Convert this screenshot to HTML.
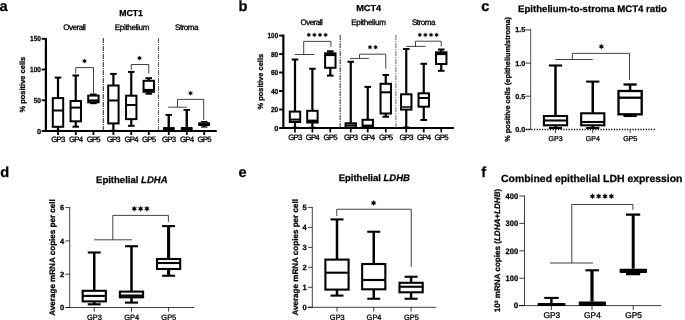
<!DOCTYPE html>
<html><head><meta charset="utf-8"><title>Figure</title>
<style>
html,body{margin:0;padding:0;background:#fff;}
body{width:685px;height:320px;overflow:hidden;font-family:"Liberation Sans",sans-serif;}
svg{display:block;will-change:transform;filter:grayscale(1);}
svg text{font-family:"Liberation Sans",sans-serif;text-rendering:geometricPrecision;stroke:#000;stroke-width:0.25px;}
svg text.r{stroke-width:0.3px;}
</style></head><body>
<svg width="685" height="320" viewBox="0 0 685 320">
<rect x="0" y="0" width="685" height="320" fill="#fff"/>
<text x="-0.5" y="11.1" font-size="14.6" font-weight="bold" text-anchor="start" fill="#000" >a</text>
<text x="131.1" y="16.3" font-size="8.7" font-weight="bold" text-anchor="middle" fill="#000" textLength="23.6" lengthAdjust="spacingAndGlyphs" >MCT1</text>
<text x="74.5" y="30.3" font-size="8.1" font-weight="normal" text-anchor="middle" fill="#000" textLength="22.6" lengthAdjust="spacing"  class="r">Overall</text>
<text x="132.1" y="30.3" font-size="8.1" font-weight="normal" text-anchor="middle" fill="#000" textLength="34.7" lengthAdjust="spacing"  class="r">Epithelium</text>
<text x="186.8" y="30.3" font-size="8.1" font-weight="normal" text-anchor="middle" fill="#000" textLength="23.6" lengthAdjust="spacing"  class="r">Stroma</text>
<text x="25.2" y="84.65" font-size="7.5" font-weight="bold" text-anchor="middle" fill="#000" transform="rotate(-90 25.2 84.65)" textLength="55.7" lengthAdjust="spacingAndGlyphs" >% positive cells</text>
<line x1="45.9" y1="37.9" x2="45.9" y2="132" stroke="#000" stroke-width="2.2" />
<line x1="45" y1="131" x2="216.75" y2="131" stroke="#000" stroke-width="2.0" />
<line x1="41.7" y1="38.8" x2="46" y2="38.8" stroke="#000" stroke-width="1.9" />
<text x="41" y="41.41" font-size="7.3" font-weight="bold" text-anchor="end" fill="#000" textLength="10.9" lengthAdjust="spacingAndGlyphs" >150</text>
<line x1="41.7" y1="69.5" x2="46" y2="69.5" stroke="#000" stroke-width="1.9" />
<text x="41" y="72.11" font-size="7.3" font-weight="bold" text-anchor="end" fill="#000" textLength="10.9" lengthAdjust="spacingAndGlyphs" >100</text>
<line x1="41.7" y1="100.3" x2="46" y2="100.3" stroke="#000" stroke-width="1.9" />
<text x="41" y="102.91" font-size="7.3" font-weight="bold" text-anchor="end" fill="#000" textLength="7.3" lengthAdjust="spacingAndGlyphs" >50</text>
<line x1="41.7" y1="131" x2="46" y2="131" stroke="#000" stroke-width="1.9" />
<text x="41" y="133.61" font-size="7.3" font-weight="bold" text-anchor="end" fill="#000" >0</text>
<line x1="58" y1="131" x2="58" y2="135" stroke="#000" stroke-width="1.8" />
<text x="58.3" y="142.4" font-size="7.8" font-weight="normal" text-anchor="middle" fill="#000" textLength="14" lengthAdjust="spacing"  class="r">GP3</text>
<line x1="75.75" y1="131" x2="75.75" y2="135" stroke="#000" stroke-width="1.8" />
<text x="76.05" y="142.4" font-size="7.8" font-weight="normal" text-anchor="middle" fill="#000" textLength="14" lengthAdjust="spacing"  class="r">GP4</text>
<line x1="93.4" y1="131" x2="93.4" y2="135" stroke="#000" stroke-width="1.8" />
<text x="93.7" y="142.4" font-size="7.8" font-weight="normal" text-anchor="middle" fill="#000" textLength="14" lengthAdjust="spacing"  class="r">GP5</text>
<line x1="113.4" y1="131" x2="113.4" y2="135" stroke="#000" stroke-width="1.8" />
<text x="113.7" y="142.4" font-size="7.8" font-weight="normal" text-anchor="middle" fill="#000" textLength="14" lengthAdjust="spacing"  class="r">GP3</text>
<line x1="131.25" y1="131" x2="131.25" y2="135" stroke="#000" stroke-width="1.8" />
<text x="131.55" y="142.4" font-size="7.8" font-weight="normal" text-anchor="middle" fill="#000" textLength="14" lengthAdjust="spacing"  class="r">GP4</text>
<line x1="148.75" y1="131" x2="148.75" y2="135" stroke="#000" stroke-width="1.8" />
<text x="149.05" y="142.4" font-size="7.8" font-weight="normal" text-anchor="middle" fill="#000" textLength="14" lengthAdjust="spacing"  class="r">GP5</text>
<line x1="168.75" y1="131" x2="168.75" y2="135" stroke="#000" stroke-width="1.8" />
<text x="169.05" y="142.4" font-size="7.8" font-weight="normal" text-anchor="middle" fill="#000" textLength="14" lengthAdjust="spacing"  class="r">GP3</text>
<line x1="186.75" y1="131" x2="186.75" y2="135" stroke="#000" stroke-width="1.8" />
<text x="187.05" y="142.4" font-size="7.8" font-weight="normal" text-anchor="middle" fill="#000" textLength="14" lengthAdjust="spacing"  class="r">GP4</text>
<line x1="204.25" y1="131" x2="204.25" y2="135" stroke="#000" stroke-width="1.8" />
<text x="204.55" y="142.4" font-size="7.8" font-weight="normal" text-anchor="middle" fill="#000" textLength="14" lengthAdjust="spacing"  class="r">GP5</text>
<line x1="103.3" y1="38" x2="103.3" y2="130" stroke="#333" stroke-width="1.1" stroke-dasharray="5 0.9 1.2 0.9"/>
<line x1="158.5" y1="38" x2="158.5" y2="130" stroke="#666" stroke-width="1.1" stroke-dasharray="5 0.9 1.2 0.9"/>
<line x1="58" y1="77.6" x2="58" y2="98.1" stroke="#000" stroke-width="2.2" />
<line x1="58" y1="126.8" x2="58" y2="130.8" stroke="#000" stroke-width="2.2" />
<line x1="54.7" y1="77.6" x2="61.3" y2="77.6" stroke="#000" stroke-width="2.0" />
<line x1="54.7" y1="130.8" x2="61.3" y2="130.8" stroke="#000" stroke-width="2.0" />
<rect x="52.8" y="98.1" width="10.4" height="28.700000000000003" fill="#fff" stroke="#000" stroke-width="2.0"/>
<line x1="52.8" y1="110.5" x2="63.2" y2="110.5" stroke="#000" stroke-width="2.0" />
<line x1="75.75" y1="75.5" x2="75.75" y2="101" stroke="#000" stroke-width="2.2" />
<line x1="75.75" y1="121.3" x2="75.75" y2="126.7" stroke="#000" stroke-width="2.2" />
<line x1="72.45" y1="75.5" x2="79.05" y2="75.5" stroke="#000" stroke-width="2.0" />
<line x1="72.45" y1="126.7" x2="79.05" y2="126.7" stroke="#000" stroke-width="2.0" />
<rect x="70.55" y="101" width="10.4" height="20.299999999999997" fill="#fff" stroke="#000" stroke-width="2.0"/>
<line x1="70.55" y1="107.6" x2="80.95" y2="107.6" stroke="#000" stroke-width="2.0" />
<line x1="93.4" y1="94.5" x2="93.4" y2="95.6" stroke="#000" stroke-width="2.2" />
<line x1="93.4" y1="102.3" x2="93.4" y2="103.2" stroke="#000" stroke-width="2.2" />
<line x1="90.10000000000001" y1="94.5" x2="96.7" y2="94.5" stroke="#000" stroke-width="2.0" />
<line x1="90.10000000000001" y1="103.2" x2="96.7" y2="103.2" stroke="#000" stroke-width="2.0" />
<rect x="88.2" y="95.6" width="10.4" height="6.700000000000003" fill="#fff" stroke="#000" stroke-width="2.0"/>
<line x1="88.2" y1="100.5" x2="98.60000000000001" y2="100.5" stroke="#000" stroke-width="2.2" />
<line x1="113.4" y1="73.9" x2="113.4" y2="85.5" stroke="#000" stroke-width="2.2" />
<line x1="113.4" y1="123.4" x2="113.4" y2="130.8" stroke="#000" stroke-width="2.2" />
<line x1="110.10000000000001" y1="73.9" x2="116.7" y2="73.9" stroke="#000" stroke-width="2.0" />
<line x1="110.10000000000001" y1="130.8" x2="116.7" y2="130.8" stroke="#000" stroke-width="2.0" />
<rect x="108.2" y="85.5" width="10.4" height="37.900000000000006" fill="#fff" stroke="#000" stroke-width="2.0"/>
<line x1="108.2" y1="100.5" x2="118.60000000000001" y2="100.5" stroke="#000" stroke-width="2.0" />
<line x1="131.25" y1="71.9" x2="131.25" y2="95.7" stroke="#000" stroke-width="2.2" />
<line x1="131.25" y1="119.1" x2="131.25" y2="125.8" stroke="#000" stroke-width="2.2" />
<line x1="127.95" y1="71.9" x2="134.55" y2="71.9" stroke="#000" stroke-width="2.0" />
<line x1="127.95" y1="125.8" x2="134.55" y2="125.8" stroke="#000" stroke-width="2.0" />
<rect x="126.05" y="95.7" width="10.4" height="23.39999999999999" fill="#fff" stroke="#000" stroke-width="2.0"/>
<line x1="126.05" y1="105" x2="136.45" y2="105" stroke="#000" stroke-width="2.0" />
<line x1="148.75" y1="78.2" x2="148.75" y2="80.8" stroke="#000" stroke-width="2.2" />
<line x1="148.75" y1="91.8" x2="148.75" y2="93.7" stroke="#000" stroke-width="2.2" />
<line x1="145.45" y1="78.2" x2="152.05" y2="78.2" stroke="#000" stroke-width="2.0" />
<line x1="145.45" y1="93.7" x2="152.05" y2="93.7" stroke="#000" stroke-width="2.0" />
<rect x="143.55" y="80.8" width="10.4" height="11.0" fill="#fff" stroke="#000" stroke-width="2.0"/>
<line x1="143.55" y1="90.0" x2="153.95" y2="90.0" stroke="#000" stroke-width="2.2" />
<rect x="163" y="127.1" width="11.800000000000011" height="4.700000000000017" fill="#000" rx="0.8"/>
<line x1="168.75" y1="114.9" x2="168.75" y2="127.1" stroke="#000" stroke-width="2.4" />
<line x1="165.5" y1="114.9" x2="172" y2="114.9" stroke="#000" stroke-width="1.8" />
<rect x="180.8" y="126.9" width="11.899999999999977" height="4.900000000000006" fill="#000" rx="0.8"/>
<line x1="186.75" y1="109.9" x2="186.75" y2="126.9" stroke="#000" stroke-width="2.4" />
<line x1="183.5" y1="109.9" x2="190" y2="109.9" stroke="#000" stroke-width="1.8" />
<rect x="198.1" y="122.2" width="12.0" height="3.8999999999999915" fill="#000" rx="0.8"/>
<line x1="204.25" y1="121.6" x2="204.25" y2="122.2" stroke="#000" stroke-width="2.4" />
<line x1="201" y1="121.6" x2="207.5" y2="121.6" stroke="#000" stroke-width="1.2" />
<line x1="204.25" y1="126.1" x2="204.25" y2="127" stroke="#000" stroke-width="2.4" />
<line x1="201" y1="127" x2="207.5" y2="127" stroke="#000" stroke-width="1.2" />
<polyline points="75.75,73.5 75.75,67.6 93.5,67.6 93.5,93" fill="none" stroke="#222" stroke-width="0.85"/>
<polygon points="84.50,58.80 85.08,60.10 86.49,59.95 85.65,61.10 86.49,62.25 85.08,62.10 84.50,63.40 83.92,62.10 82.51,62.25 83.35,61.10 82.51,59.95 83.92,60.10" fill="#000" stroke="#000" stroke-width="0.3" stroke-linejoin="round"/>
<polyline points="131.25,69.8 131.25,64.5 148.75,64.5 148.75,73.5" fill="none" stroke="#222" stroke-width="0.85"/>
<polygon points="139.50,55.80 140.07,57.10 141.49,56.95 140.65,58.10 141.49,59.25 140.07,59.10 139.50,60.40 138.93,59.10 137.51,59.25 138.35,58.10 137.51,56.95 138.93,57.10" fill="#000" stroke="#000" stroke-width="0.3" stroke-linejoin="round"/>
<line x1="168.25" y1="107.2" x2="186.75" y2="107.2" stroke="#222" stroke-width="0.85" />
<polyline points="177.5,107.2 177.5,99.4 203.7,99.4 203.7,120" fill="none" stroke="#222" stroke-width="0.85"/>
<polygon points="190.60,90.90 191.17,92.20 192.59,92.05 191.75,93.20 192.59,94.35 191.17,94.20 190.60,95.50 190.03,94.20 188.61,94.35 189.45,93.20 188.61,92.05 190.03,92.20" fill="#000" stroke="#000" stroke-width="0.3" stroke-linejoin="round"/>
<text x="238.6" y="11.3" font-size="14.6" font-weight="bold" text-anchor="start" fill="#000" >b</text>
<text x="368.7" y="11.3" font-size="8.7" font-weight="bold" text-anchor="middle" fill="#000" textLength="25" lengthAdjust="spacingAndGlyphs" >MCT4</text>
<text x="311.6" y="25.1" font-size="8.1" font-weight="normal" text-anchor="middle" fill="#000" textLength="22.2" lengthAdjust="spacing"  class="r">Overall</text>
<text x="368.55" y="25.1" font-size="8.1" font-weight="normal" text-anchor="middle" fill="#000" textLength="34.7" lengthAdjust="spacing"  class="r">Epithelium</text>
<text x="423.7" y="25.1" font-size="8.1" font-weight="normal" text-anchor="middle" fill="#000" textLength="23.6" lengthAdjust="spacing"  class="r">Stroma</text>
<text x="263" y="81.7" font-size="7.5" font-weight="bold" text-anchor="middle" fill="#000" transform="rotate(-90 263 81.7)" textLength="55.7" lengthAdjust="spacingAndGlyphs" >% positive cells</text>
<line x1="283.35" y1="34.6" x2="283.35" y2="129" stroke="#000" stroke-width="2.2" />
<line x1="282.3" y1="128" x2="454" y2="128" stroke="#000" stroke-width="2.0" />
<line x1="279.1" y1="35.6" x2="283.5" y2="35.6" stroke="#000" stroke-width="1.9" />
<text x="278.2" y="38.21" font-size="7.3" font-weight="bold" text-anchor="end" fill="#000" textLength="10.6" lengthAdjust="spacingAndGlyphs" >100</text>
<line x1="279.1" y1="54.1" x2="283.5" y2="54.1" stroke="#000" stroke-width="1.9" />
<text x="278.2" y="56.71" font-size="7.3" font-weight="bold" text-anchor="end" fill="#000" textLength="7.3" lengthAdjust="spacingAndGlyphs" >80</text>
<line x1="279.1" y1="72.5" x2="283.5" y2="72.5" stroke="#000" stroke-width="1.9" />
<text x="278.2" y="75.11" font-size="7.3" font-weight="bold" text-anchor="end" fill="#000" textLength="7.3" lengthAdjust="spacingAndGlyphs" >60</text>
<line x1="279.1" y1="91" x2="283.5" y2="91" stroke="#000" stroke-width="1.9" />
<text x="278.2" y="93.61" font-size="7.3" font-weight="bold" text-anchor="end" fill="#000" textLength="7.3" lengthAdjust="spacingAndGlyphs" >40</text>
<line x1="279.1" y1="109.5" x2="283.5" y2="109.5" stroke="#000" stroke-width="1.9" />
<text x="278.2" y="112.11" font-size="7.3" font-weight="bold" text-anchor="end" fill="#000" textLength="7.3" lengthAdjust="spacingAndGlyphs" >20</text>
<line x1="279.1" y1="128" x2="283.5" y2="128" stroke="#000" stroke-width="1.9" />
<text x="278.2" y="130.61" font-size="7.3" font-weight="bold" text-anchor="end" fill="#000" >0</text>
<line x1="295" y1="128" x2="295" y2="132.4" stroke="#000" stroke-width="1.7" />
<text x="295.3" y="139.8" font-size="7.8" font-weight="normal" text-anchor="middle" fill="#000" textLength="14" lengthAdjust="spacing"  class="r">GP3</text>
<line x1="312.4" y1="128" x2="312.4" y2="132.4" stroke="#000" stroke-width="1.7" />
<text x="312.7" y="139.8" font-size="7.8" font-weight="normal" text-anchor="middle" fill="#000" textLength="14" lengthAdjust="spacing"  class="r">GP4</text>
<line x1="330.3" y1="128" x2="330.3" y2="132.4" stroke="#000" stroke-width="1.7" />
<text x="330.6" y="139.8" font-size="7.8" font-weight="normal" text-anchor="middle" fill="#000" textLength="14" lengthAdjust="spacing"  class="r">GP5</text>
<line x1="350.75" y1="128" x2="350.75" y2="132.4" stroke="#000" stroke-width="1.7" />
<text x="351.05" y="139.8" font-size="7.8" font-weight="normal" text-anchor="middle" fill="#000" textLength="14" lengthAdjust="spacing"  class="r">GP3</text>
<line x1="367.75" y1="128" x2="367.75" y2="132.4" stroke="#000" stroke-width="1.7" />
<text x="368.05" y="139.8" font-size="7.8" font-weight="normal" text-anchor="middle" fill="#000" textLength="14" lengthAdjust="spacing"  class="r">GP4</text>
<line x1="385.75" y1="128" x2="385.75" y2="132.4" stroke="#000" stroke-width="1.7" />
<text x="386.05" y="139.8" font-size="7.8" font-weight="normal" text-anchor="middle" fill="#000" textLength="14" lengthAdjust="spacing"  class="r">GP5</text>
<line x1="406.25" y1="128" x2="406.25" y2="132.4" stroke="#000" stroke-width="1.7" />
<text x="406.55" y="139.8" font-size="7.8" font-weight="normal" text-anchor="middle" fill="#000" textLength="14" lengthAdjust="spacing"  class="r">GP3</text>
<line x1="423.75" y1="128" x2="423.75" y2="132.4" stroke="#000" stroke-width="1.7" />
<text x="424.05" y="139.8" font-size="7.8" font-weight="normal" text-anchor="middle" fill="#000" textLength="14" lengthAdjust="spacing"  class="r">GP4</text>
<line x1="441.25" y1="128" x2="441.25" y2="132.4" stroke="#000" stroke-width="1.7" />
<text x="441.55" y="139.8" font-size="7.8" font-weight="normal" text-anchor="middle" fill="#000" textLength="14" lengthAdjust="spacing"  class="r">GP5</text>
<line x1="340.2" y1="35" x2="340.2" y2="127.5" stroke="#444" stroke-width="1.1" stroke-dasharray="5 0.9 1.2 0.9"/>
<line x1="395.9" y1="35" x2="395.9" y2="127.5" stroke="#777" stroke-width="1.1" stroke-dasharray="5 0.9 1.2 0.9"/>
<line x1="295" y1="59.5" x2="295" y2="111.6" stroke="#000" stroke-width="2.2" />
<line x1="295" y1="122" x2="295" y2="127.8" stroke="#000" stroke-width="2.2" />
<line x1="291.7" y1="59.5" x2="298.3" y2="59.5" stroke="#000" stroke-width="2.0" />
<line x1="291.7" y1="127.8" x2="298.3" y2="127.8" stroke="#000" stroke-width="2.0" />
<rect x="289.8" y="111.6" width="10.4" height="10.400000000000006" fill="#fff" stroke="#000" stroke-width="2.0"/>
<line x1="289.8" y1="119.6" x2="300.2" y2="119.6" stroke="#000" stroke-width="2.0" />
<line x1="312.4" y1="68.75" x2="312.4" y2="110.8" stroke="#000" stroke-width="2.2" />
<line x1="312.4" y1="122.5" x2="312.4" y2="127.8" stroke="#000" stroke-width="2.2" />
<line x1="309.09999999999997" y1="68.75" x2="315.7" y2="68.75" stroke="#000" stroke-width="2.0" />
<line x1="309.09999999999997" y1="127.8" x2="315.7" y2="127.8" stroke="#000" stroke-width="2.0" />
<rect x="307.2" y="110.8" width="10.4" height="11.700000000000003" fill="#fff" stroke="#000" stroke-width="2.0"/>
<line x1="307.2" y1="120.8" x2="317.59999999999997" y2="120.8" stroke="#000" stroke-width="2.4" />
<line x1="330.3" y1="51.3" x2="330.3" y2="53.3" stroke="#000" stroke-width="2.2" />
<line x1="330.3" y1="67.8" x2="330.3" y2="75.6" stroke="#000" stroke-width="2.2" />
<line x1="327.0" y1="51.3" x2="333.6" y2="51.3" stroke="#000" stroke-width="2.0" />
<line x1="327.0" y1="75.6" x2="333.6" y2="75.6" stroke="#000" stroke-width="2.0" />
<rect x="325.1" y="53.3" width="10.4" height="14.5" fill="#fff" stroke="#000" stroke-width="2.0"/>
<line x1="325.1" y1="55" x2="335.5" y2="55" stroke="#000" stroke-width="2.2" />
<line x1="350.75" y1="61.75" x2="350.75" y2="123.3" stroke="#000" stroke-width="2.2" />
<line x1="350.75" y1="127.6" x2="350.75" y2="127.8" stroke="#000" stroke-width="2.2" />
<line x1="347.45" y1="61.75" x2="354.05" y2="61.75" stroke="#000" stroke-width="2.0" />
<line x1="347.45" y1="127.8" x2="354.05" y2="127.8" stroke="#000" stroke-width="2.0" />
<rect x="345.55" y="123.3" width="10.4" height="4.299999999999997" fill="#fff" stroke="#000" stroke-width="2.0"/>
<line x1="345.55" y1="125.4" x2="355.95" y2="125.4" stroke="#000" stroke-width="2.0" />
<line x1="367.75" y1="86.9" x2="367.75" y2="119.8" stroke="#000" stroke-width="2.2" />
<line x1="367.75" y1="126.6" x2="367.75" y2="127.8" stroke="#000" stroke-width="2.2" />
<line x1="364.45" y1="86.9" x2="371.05" y2="86.9" stroke="#000" stroke-width="2.0" />
<line x1="364.45" y1="127.8" x2="371.05" y2="127.8" stroke="#000" stroke-width="2.0" />
<rect x="362.55" y="119.8" width="10.4" height="6.799999999999997" fill="#fff" stroke="#000" stroke-width="2.0"/>
<line x1="362.55" y1="125.6" x2="372.95" y2="125.6" stroke="#000" stroke-width="2.0" />
<line x1="385.75" y1="75" x2="385.75" y2="83.8" stroke="#000" stroke-width="2.2" />
<line x1="385.75" y1="113.5" x2="385.75" y2="116.75" stroke="#000" stroke-width="2.2" />
<line x1="382.45" y1="75" x2="389.05" y2="75" stroke="#000" stroke-width="2.0" />
<line x1="382.45" y1="116.75" x2="389.05" y2="116.75" stroke="#000" stroke-width="2.0" />
<rect x="380.55" y="83.8" width="10.4" height="29.700000000000003" fill="#fff" stroke="#000" stroke-width="2.0"/>
<line x1="380.55" y1="92.3" x2="390.95" y2="92.3" stroke="#000" stroke-width="2.0" />
<line x1="406.25" y1="49.0" x2="406.25" y2="94.3" stroke="#000" stroke-width="2.2" />
<line x1="406.25" y1="109.6" x2="406.25" y2="127.5" stroke="#000" stroke-width="2.2" />
<line x1="402.95" y1="49.0" x2="409.55" y2="49.0" stroke="#000" stroke-width="2.0" />
<line x1="402.95" y1="127.5" x2="409.55" y2="127.5" stroke="#000" stroke-width="2.0" />
<rect x="401.05" y="94.3" width="10.4" height="15.299999999999997" fill="#fff" stroke="#000" stroke-width="2.0"/>
<line x1="401.05" y1="107.0" x2="411.45" y2="107.0" stroke="#000" stroke-width="1.5" />
<line x1="423.75" y1="63.8" x2="423.75" y2="93.3" stroke="#000" stroke-width="2.2" />
<line x1="423.75" y1="106.7" x2="423.75" y2="120" stroke="#000" stroke-width="2.2" />
<line x1="420.45" y1="63.8" x2="427.05" y2="63.8" stroke="#000" stroke-width="2.0" />
<line x1="420.45" y1="120" x2="427.05" y2="120" stroke="#000" stroke-width="2.0" />
<rect x="418.55" y="93.3" width="10.4" height="13.400000000000006" fill="#fff" stroke="#000" stroke-width="2.0"/>
<line x1="418.55" y1="98" x2="428.95" y2="98" stroke="#000" stroke-width="2.0" />
<line x1="441.25" y1="49.5" x2="441.25" y2="52.3" stroke="#000" stroke-width="2.2" />
<line x1="441.25" y1="64" x2="441.25" y2="70.8" stroke="#000" stroke-width="2.2" />
<line x1="437.95" y1="49.5" x2="444.55" y2="49.5" stroke="#000" stroke-width="2.0" />
<line x1="437.95" y1="70.8" x2="444.55" y2="70.8" stroke="#000" stroke-width="2.0" />
<rect x="436.05" y="52.3" width="10.4" height="11.700000000000003" fill="#fff" stroke="#000" stroke-width="2.0"/>
<line x1="436.05" y1="54" x2="446.45" y2="54" stroke="#000" stroke-width="2.2" />
<line x1="294.7" y1="54.5" x2="314.4" y2="54.5" stroke="#222" stroke-width="0.85" />
<polyline points="303.7,54.5 303.7,41.4 330.9,41.4 330.9,46.8" fill="none" stroke="#222" stroke-width="0.85"/>
<polygon points="308.80,32.75 309.34,33.97 310.66,33.82 309.88,34.90 310.66,35.98 309.34,35.83 308.80,37.05 308.26,35.83 306.94,35.98 307.73,34.90 306.94,33.82 308.26,33.97" fill="#000" stroke="#000" stroke-width="0.3" stroke-linejoin="round"/>
<polygon points="314.40,32.75 314.94,33.97 316.26,33.82 315.47,34.90 316.26,35.98 314.94,35.83 314.40,37.05 313.86,35.83 312.54,35.98 313.32,34.90 312.54,33.82 313.86,33.97" fill="#000" stroke="#000" stroke-width="0.3" stroke-linejoin="round"/>
<polygon points="320.00,32.75 320.54,33.97 321.86,33.82 321.07,34.90 321.86,35.98 320.54,35.83 320.00,37.05 319.46,35.83 318.14,35.98 318.93,34.90 318.14,33.82 319.46,33.97" fill="#000" stroke="#000" stroke-width="0.3" stroke-linejoin="round"/>
<polygon points="325.60,32.75 326.14,33.97 327.46,33.82 326.67,34.90 327.46,35.98 326.14,35.83 325.60,37.05 325.06,35.83 323.74,35.98 324.52,34.90 323.74,33.82 325.06,33.97" fill="#000" stroke="#000" stroke-width="0.3" stroke-linejoin="round"/>
<line x1="350" y1="58.4" x2="368.75" y2="58.4" stroke="#222" stroke-width="0.85" />
<polyline points="359.5,58.4 359.5,54.2 385.75,54.2 385.75,68.75" fill="none" stroke="#222" stroke-width="0.85"/>
<polygon points="370.00,45.05 370.54,46.27 371.86,46.12 371.07,47.20 371.86,48.28 370.54,48.13 370.00,49.35 369.46,48.13 368.14,48.28 368.93,47.20 368.14,46.12 369.46,46.27" fill="#000" stroke="#000" stroke-width="0.3" stroke-linejoin="round"/>
<polygon points="375.60,45.05 376.14,46.27 377.46,46.12 376.68,47.20 377.46,48.28 376.14,48.13 375.60,49.35 375.06,48.13 373.74,48.28 374.53,47.20 373.74,46.12 375.06,46.27" fill="#000" stroke="#000" stroke-width="0.3" stroke-linejoin="round"/>
<line x1="406.3" y1="46.4" x2="425.7" y2="46.4" stroke="#222" stroke-width="0.85" />
<polyline points="415.5,46.4 415.5,41.2 441.2,41.2 441.2,46.5" fill="none" stroke="#222" stroke-width="0.85"/>
<polygon points="419.80,32.75 420.34,33.97 421.66,33.82 420.88,34.90 421.66,35.98 420.34,35.83 419.80,37.05 419.26,35.83 417.94,35.98 418.73,34.90 417.94,33.82 419.26,33.97" fill="#000" stroke="#000" stroke-width="0.3" stroke-linejoin="round"/>
<polygon points="425.40,32.75 425.94,33.97 427.26,33.82 426.47,34.90 427.26,35.98 425.94,35.83 425.40,37.05 424.86,35.83 423.54,35.98 424.32,34.90 423.54,33.82 424.86,33.97" fill="#000" stroke="#000" stroke-width="0.3" stroke-linejoin="round"/>
<polygon points="431.00,32.75 431.54,33.97 432.86,33.82 432.07,34.90 432.86,35.98 431.54,35.83 431.00,37.05 430.46,35.83 429.14,35.98 429.93,34.90 429.14,33.82 430.46,33.97" fill="#000" stroke="#000" stroke-width="0.3" stroke-linejoin="round"/>
<polygon points="436.60,32.75 437.14,33.97 438.46,33.82 437.67,34.90 438.46,35.98 437.14,35.83 436.60,37.05 436.06,35.83 434.74,35.98 435.52,34.90 434.74,33.82 436.06,33.97" fill="#000" stroke="#000" stroke-width="0.3" stroke-linejoin="round"/>
<text x="481.3" y="11.3" font-size="14.6" font-weight="bold" text-anchor="start" fill="#000" >c</text>
<text x="592.5" y="11.8" font-size="9.5" font-weight="bold" text-anchor="middle" fill="#000" textLength="148.8" lengthAdjust="spacingAndGlyphs" >Epithelium-to-stroma MCT4 ratio</text>
<text x="510.3" y="79.4" font-size="7.35" font-weight="bold" text-anchor="middle" fill="#000" transform="rotate(-90 510.3 79.4)" textLength="124.8" lengthAdjust="spacingAndGlyphs" >% positive cells (epithelium/stroma)</text>
<line x1="530.7" y1="29" x2="530.7" y2="129.9" stroke="#333" stroke-width="0.85" />
<line x1="525.5" y1="29.9" x2="530.7" y2="29.9" stroke="#000" stroke-width="0.75" />
<text x="525.3" y="32.48" font-size="7.2" font-weight="bold" text-anchor="end" fill="#000" textLength="10.1" lengthAdjust="spacingAndGlyphs" >1.5</text>
<line x1="525.5" y1="63.1" x2="530.7" y2="63.1" stroke="#000" stroke-width="0.75" />
<text x="525.3" y="65.68" font-size="7.2" font-weight="bold" text-anchor="end" fill="#000" textLength="10.1" lengthAdjust="spacingAndGlyphs" >1.0</text>
<line x1="525.5" y1="96.2" x2="530.7" y2="96.2" stroke="#000" stroke-width="0.75" />
<text x="525.3" y="98.78" font-size="7.2" font-weight="bold" text-anchor="end" fill="#000" textLength="10.1" lengthAdjust="spacingAndGlyphs" >0.5</text>
<line x1="525.5" y1="129.4" x2="530.7" y2="129.4" stroke="#000" stroke-width="0.75" />
<text x="525.3" y="131.98" font-size="7.2" font-weight="bold" text-anchor="end" fill="#000" textLength="10.1" lengthAdjust="spacingAndGlyphs" >0.0</text>
<line x1="526" y1="129.5" x2="655.6" y2="129.5" stroke="#000" stroke-width="1.5" stroke-dasharray="1.2 1.46"/>
<line x1="555.5" y1="129.5" x2="555.5" y2="133" stroke="#222" stroke-width="0.85" />
<text x="555.6" y="141.4" font-size="7.1" font-weight="normal" text-anchor="middle" fill="#000" textLength="14.1" lengthAdjust="spacingAndGlyphs"  class="r">GP3</text>
<line x1="592.75" y1="129.5" x2="592.75" y2="133" stroke="#222" stroke-width="0.85" />
<text x="592.85" y="141.4" font-size="7.1" font-weight="normal" text-anchor="middle" fill="#000" textLength="14.1" lengthAdjust="spacingAndGlyphs"  class="r">GP4</text>
<line x1="630.1" y1="129.5" x2="630.1" y2="133" stroke="#222" stroke-width="0.85" />
<text x="630.2" y="141.4" font-size="7.1" font-weight="normal" text-anchor="middle" fill="#000" textLength="14.1" lengthAdjust="spacingAndGlyphs"  class="r">GP5</text>
<line x1="555.5" y1="65.5" x2="555.5" y2="116" stroke="#000" stroke-width="2.5" />
<line x1="555.5" y1="125.3" x2="555.5" y2="128" stroke="#000" stroke-width="2.5" />
<line x1="548.9" y1="65.5" x2="562.1" y2="65.5" stroke="#000" stroke-width="2.1" />
<line x1="548.9" y1="128" x2="562.1" y2="128" stroke="#000" stroke-width="2.1" />
<rect x="543.9" y="116" width="23.2" height="9.299999999999997" fill="#fff" stroke="#000" stroke-width="2.1"/>
<line x1="543.9" y1="120.5" x2="567.1" y2="120.5" stroke="#000" stroke-width="2.1" />
<line x1="592.75" y1="81.6" x2="592.75" y2="113.3" stroke="#000" stroke-width="2.5" />
<line x1="592.75" y1="125.3" x2="592.75" y2="128" stroke="#000" stroke-width="2.5" />
<line x1="586.15" y1="81.6" x2="599.35" y2="81.6" stroke="#000" stroke-width="2.1" />
<line x1="586.15" y1="128" x2="599.35" y2="128" stroke="#000" stroke-width="2.1" />
<rect x="581.15" y="113.3" width="23.2" height="12.0" fill="#fff" stroke="#000" stroke-width="2.1"/>
<line x1="581.15" y1="122" x2="604.35" y2="122" stroke="#000" stroke-width="2.1" />
<line x1="630.1" y1="84.5" x2="630.1" y2="91" stroke="#000" stroke-width="2.5" />
<line x1="630.1" y1="114.3" x2="630.1" y2="115.9" stroke="#000" stroke-width="2.5" />
<line x1="623.5" y1="84.5" x2="636.7" y2="84.5" stroke="#000" stroke-width="2.3" />
<line x1="623.5" y1="115.9" x2="636.7" y2="115.9" stroke="#000" stroke-width="2.3" />
<rect x="618.5" y="91" width="23.2" height="23.299999999999997" fill="#fff" stroke="#000" stroke-width="2.3"/>
<line x1="618.5" y1="97.7" x2="641.7" y2="97.7" stroke="#000" stroke-width="2.3" />
<line x1="555.25" y1="59.5" x2="592.75" y2="59.5" stroke="#222" stroke-width="0.85" />
<polyline points="572.4,59.5 572.4,53.4 629.5,53.4 629.5,80" fill="none" stroke="#222" stroke-width="0.85"/>
<polygon points="601.40,44.00 602.05,45.47 603.65,45.30 602.70,46.60 603.65,47.90 602.05,47.73 601.40,49.20 600.75,47.73 599.15,47.90 600.10,46.60 599.15,45.30 600.75,45.47" fill="#000" stroke="#000" stroke-width="0.3" stroke-linejoin="round"/>
<text x="0.2" y="176.5" font-size="14.6" font-weight="bold" text-anchor="start" fill="#000" >d</text>
<text x="131.8" y="182.5" font-size="9.5" font-weight="bold" text-anchor="middle" fill="#000" textLength="71.5" lengthAdjust="spacingAndGlyphs" >Epithelial <tspan font-style="italic">LDHA</tspan></text>
<text x="55.1" y="257.45" font-size="8.05" font-weight="bold" text-anchor="middle" fill="#000" transform="rotate(-90 55.1 257.45)" textLength="116.5" lengthAdjust="spacingAndGlyphs" >Average mRNA copies per cell</text>
<line x1="69.7" y1="207.2" x2="69.7" y2="307.9" stroke="#000" stroke-width="0.75" />
<line x1="65.3" y1="307.5" x2="194.3" y2="307.5" stroke="#000" stroke-width="0.75" />
<line x1="65.3" y1="207.6" x2="69.7" y2="207.6" stroke="#000" stroke-width="0.75" />
<text x="64.2" y="210.28" font-size="7.5" font-weight="bold" text-anchor="end" fill="#000" >6</text>
<line x1="65.3" y1="240.9" x2="69.7" y2="240.9" stroke="#000" stroke-width="0.75" />
<text x="64.2" y="243.59" font-size="7.5" font-weight="bold" text-anchor="end" fill="#000" >4</text>
<line x1="65.3" y1="274.2" x2="69.7" y2="274.2" stroke="#000" stroke-width="0.75" />
<text x="64.2" y="276.88" font-size="7.5" font-weight="bold" text-anchor="end" fill="#000" >2</text>
<line x1="65.3" y1="307.5" x2="69.7" y2="307.5" stroke="#000" stroke-width="0.75" />
<text x="64.2" y="310.19" font-size="7.5" font-weight="bold" text-anchor="end" fill="#000" >0</text>
<line x1="94.25" y1="307.5" x2="94.25" y2="311.6" stroke="#000" stroke-width="0.75" />
<text x="94.45" y="319.6" font-size="7.7" font-weight="normal" text-anchor="middle" fill="#000" textLength="14.9" lengthAdjust="spacingAndGlyphs"  class="r">GP3</text>
<line x1="131.5" y1="307.5" x2="131.5" y2="311.6" stroke="#000" stroke-width="0.75" />
<text x="131.7" y="319.6" font-size="7.7" font-weight="normal" text-anchor="middle" fill="#000" textLength="14.9" lengthAdjust="spacingAndGlyphs"  class="r">GP4</text>
<line x1="168.6" y1="307.5" x2="168.6" y2="311.6" stroke="#000" stroke-width="0.75" />
<text x="168.79999999999998" y="319.6" font-size="7.7" font-weight="normal" text-anchor="middle" fill="#000" textLength="14.9" lengthAdjust="spacingAndGlyphs"  class="r">GP5</text>
<line x1="94.25" y1="252.5" x2="94.25" y2="290.8" stroke="#000" stroke-width="2.5" />
<line x1="94.25" y1="301.4" x2="94.25" y2="304.3" stroke="#000" stroke-width="2.5" />
<line x1="87.75" y1="252.5" x2="100.75" y2="252.5" stroke="#000" stroke-width="2.1" />
<line x1="87.75" y1="304.3" x2="100.75" y2="304.3" stroke="#000" stroke-width="2.1" />
<rect x="82.65" y="290.8" width="23.2" height="10.599999999999966" fill="#fff" stroke="#000" stroke-width="2.1"/>
<line x1="82.65" y1="295.9" x2="105.85" y2="295.9" stroke="#000" stroke-width="2.1" />
<line x1="131.5" y1="246.25" x2="131.5" y2="291.6" stroke="#000" stroke-width="2.5" />
<line x1="131.5" y1="297.3" x2="131.5" y2="302.6" stroke="#000" stroke-width="2.5" />
<line x1="125.0" y1="246.25" x2="138.0" y2="246.25" stroke="#000" stroke-width="2.1" />
<line x1="125.0" y1="302.6" x2="138.0" y2="302.6" stroke="#000" stroke-width="2.1" />
<rect x="119.9" y="291.6" width="23.2" height="5.699999999999989" fill="#fff" stroke="#000" stroke-width="2.1"/>
<line x1="119.9" y1="295.6" x2="143.1" y2="295.6" stroke="#000" stroke-width="2.2" />
<line x1="168.6" y1="226.1" x2="168.6" y2="259" stroke="#000" stroke-width="3.1" />
<line x1="168.6" y1="269" x2="168.6" y2="275.75" stroke="#000" stroke-width="3.1" />
<line x1="162.1" y1="226.1" x2="175.1" y2="226.1" stroke="#000" stroke-width="2.1" />
<line x1="162.1" y1="275.75" x2="175.1" y2="275.75" stroke="#000" stroke-width="2.1" />
<rect x="157.0" y="259" width="23.2" height="10" fill="#fff" stroke="#000" stroke-width="2.1"/>
<line x1="157.0" y1="263" x2="180.2" y2="263" stroke="#000" stroke-width="2.1" />
<line x1="94" y1="239.8" x2="131.75" y2="239.8" stroke="#222" stroke-width="0.85" />
<polyline points="112.8,239.8 112.8,215.4 168.4,215.4 168.4,222" fill="none" stroke="#222" stroke-width="0.85"/>
<polygon points="134.30,206.05 134.97,207.58 136.64,207.40 135.65,208.75 136.64,210.10 134.97,209.92 134.30,211.45 133.62,209.92 131.96,210.10 132.95,208.75 131.96,207.40 133.62,207.58" fill="#000" stroke="#000" stroke-width="0.3" stroke-linejoin="round"/>
<polygon points="140.60,206.05 141.28,207.58 142.94,207.40 141.95,208.75 142.94,210.10 141.28,209.92 140.60,211.45 139.92,209.92 138.26,210.10 139.25,208.75 138.26,207.40 139.92,207.58" fill="#000" stroke="#000" stroke-width="0.3" stroke-linejoin="round"/>
<polygon points="146.90,206.05 147.58,207.58 149.24,207.40 148.25,208.75 149.24,210.10 147.58,209.92 146.90,211.45 146.22,209.92 144.56,210.10 145.55,208.75 144.56,207.40 146.22,207.58" fill="#000" stroke="#000" stroke-width="0.3" stroke-linejoin="round"/>
<text x="238.4" y="177" font-size="14.6" font-weight="bold" text-anchor="start" fill="#000" >e</text>
<text x="374.3" y="180.7" font-size="9.5" font-weight="bold" text-anchor="middle" fill="#000" textLength="71.3" lengthAdjust="spacingAndGlyphs" >Epithelial <tspan font-style="italic">LDHB</tspan></text>
<text x="298.3" y="257.3" font-size="8.05" font-weight="bold" text-anchor="middle" fill="#000" transform="rotate(-90 298.3 257.3)" textLength="116.5" lengthAdjust="spacingAndGlyphs" >Average mRNA copies per cell</text>
<line x1="312.3" y1="207" x2="312.3" y2="307.7" stroke="#000" stroke-width="0.75" />
<line x1="307.5" y1="307.3" x2="436.25" y2="307.3" stroke="#000" stroke-width="0.75" />
<line x1="308.1" y1="207.4" x2="312.3" y2="207.4" stroke="#000" stroke-width="0.75" />
<text x="306.6" y="210.09" font-size="7.5" font-weight="bold" text-anchor="end" fill="#000" >5</text>
<line x1="308.1" y1="227.4" x2="312.3" y2="227.4" stroke="#000" stroke-width="0.75" />
<text x="306.6" y="230.09" font-size="7.5" font-weight="bold" text-anchor="end" fill="#000" >4</text>
<line x1="308.1" y1="247.4" x2="312.3" y2="247.4" stroke="#000" stroke-width="0.75" />
<text x="306.6" y="250.09" font-size="7.5" font-weight="bold" text-anchor="end" fill="#000" >3</text>
<line x1="308.1" y1="267.3" x2="312.3" y2="267.3" stroke="#000" stroke-width="0.75" />
<text x="306.6" y="269.99" font-size="7.5" font-weight="bold" text-anchor="end" fill="#000" >2</text>
<line x1="308.1" y1="287.3" x2="312.3" y2="287.3" stroke="#000" stroke-width="0.75" />
<text x="306.6" y="289.99" font-size="7.5" font-weight="bold" text-anchor="end" fill="#000" >1</text>
<line x1="308.1" y1="307.3" x2="312.3" y2="307.3" stroke="#000" stroke-width="0.75" />
<text x="306.6" y="309.99" font-size="7.5" font-weight="bold" text-anchor="end" fill="#000" >0</text>
<line x1="337" y1="307.3" x2="337" y2="311.5" stroke="#000" stroke-width="0.75" />
<text x="337.3" y="319.6" font-size="7.7" font-weight="normal" text-anchor="middle" fill="#000" textLength="14.9" lengthAdjust="spacingAndGlyphs"  class="r">GP3</text>
<line x1="373.75" y1="307.3" x2="373.75" y2="311.5" stroke="#000" stroke-width="0.75" />
<text x="374.05" y="319.6" font-size="7.7" font-weight="normal" text-anchor="middle" fill="#000" textLength="14.9" lengthAdjust="spacingAndGlyphs"  class="r">GP4</text>
<line x1="411.1" y1="307.3" x2="411.1" y2="311.5" stroke="#000" stroke-width="0.75" />
<text x="411.40000000000003" y="319.6" font-size="7.7" font-weight="normal" text-anchor="middle" fill="#000" textLength="14.9" lengthAdjust="spacingAndGlyphs"  class="r">GP5</text>
<line x1="337" y1="219.4" x2="337" y2="259.6" stroke="#000" stroke-width="2.5" />
<line x1="337" y1="289.6" x2="337" y2="295.6" stroke="#000" stroke-width="2.5" />
<line x1="330.5" y1="219.4" x2="343.5" y2="219.4" stroke="#000" stroke-width="2.1" />
<line x1="330.5" y1="295.6" x2="343.5" y2="295.6" stroke="#000" stroke-width="2.1" />
<rect x="325.4" y="259.6" width="23.2" height="30.0" fill="#fff" stroke="#000" stroke-width="2.1"/>
<line x1="325.4" y1="272.7" x2="348.6" y2="272.7" stroke="#000" stroke-width="2.1" />
<line x1="373.75" y1="231.75" x2="373.75" y2="264" stroke="#000" stroke-width="2.5" />
<line x1="373.75" y1="289.3" x2="373.75" y2="298.75" stroke="#000" stroke-width="2.5" />
<line x1="367.25" y1="231.75" x2="380.25" y2="231.75" stroke="#000" stroke-width="2.1" />
<line x1="367.25" y1="298.75" x2="380.25" y2="298.75" stroke="#000" stroke-width="2.1" />
<rect x="362.15" y="264" width="23.2" height="25.30000000000001" fill="#fff" stroke="#000" stroke-width="2.1"/>
<line x1="362.15" y1="280" x2="385.35" y2="280" stroke="#000" stroke-width="2.1" />
<line x1="411.1" y1="276.75" x2="411.1" y2="282.8" stroke="#000" stroke-width="2.5" />
<line x1="411.1" y1="292.3" x2="411.1" y2="298.75" stroke="#000" stroke-width="2.5" />
<line x1="404.6" y1="276.75" x2="417.6" y2="276.75" stroke="#000" stroke-width="2.1" />
<line x1="404.6" y1="298.75" x2="417.6" y2="298.75" stroke="#000" stroke-width="2.1" />
<rect x="399.5" y="282.8" width="23.2" height="9.5" fill="#fff" stroke="#000" stroke-width="2.1"/>
<line x1="399.5" y1="286.75" x2="422.70000000000005" y2="286.75" stroke="#000" stroke-width="2.1" />
<polyline points="336.75,216 336.75,209.25 411.25,209.25 411.25,267" fill="none" stroke="#222" stroke-width="0.85"/>
<polygon points="373.60,200.30 374.28,201.83 375.94,201.65 374.95,203.00 375.94,204.35 374.28,204.17 373.60,205.70 372.93,204.17 371.26,204.35 372.25,203.00 371.26,201.65 372.93,201.83" fill="#000" stroke="#000" stroke-width="0.3" stroke-linejoin="round"/>
<text x="481.2" y="177" font-size="14.6" font-weight="bold" text-anchor="start" fill="#000" >f</text>
<text x="591.75" y="181.9" font-size="10.3" font-weight="bold" text-anchor="middle" fill="#000" textLength="181.5" lengthAdjust="spacingAndGlyphs" >Combined epithelial LDH expression</text>
<text x="500.4" y="250.5" font-size="8.0" font-weight="bold" text-anchor="middle" fill="#000" transform="rotate(-90 500.4 250.5)" textLength="123.3" lengthAdjust="spacingAndGlyphs" >10<tspan font-size="5" dy="-2.6">3</tspan><tspan dy="2.6"> mRNA copies (</tspan><tspan font-style="italic">LDHA+LDHB</tspan>)</text>
<line x1="524.5" y1="195.5" x2="524.5" y2="306" stroke="#000" stroke-width="0.75" />
<line x1="519" y1="305.6" x2="661.25" y2="305.6" stroke="#000" stroke-width="0.75" />
<line x1="519.3" y1="196.0" x2="524.5" y2="196.0" stroke="#000" stroke-width="0.75" />
<text x="518.2" y="198.83" font-size="7.9" font-weight="bold" text-anchor="end" fill="#000" textLength="12.6" lengthAdjust="spacingAndGlyphs" >400</text>
<line x1="519.3" y1="223.4" x2="524.5" y2="223.4" stroke="#000" stroke-width="0.75" />
<text x="518.2" y="226.23" font-size="7.9" font-weight="bold" text-anchor="end" fill="#000" textLength="12.6" lengthAdjust="spacingAndGlyphs" >300</text>
<line x1="519.3" y1="250.8" x2="524.5" y2="250.8" stroke="#000" stroke-width="0.75" />
<text x="518.2" y="253.63" font-size="7.9" font-weight="bold" text-anchor="end" fill="#000" textLength="12.6" lengthAdjust="spacingAndGlyphs" >200</text>
<line x1="519.3" y1="278.2" x2="524.5" y2="278.2" stroke="#000" stroke-width="0.75" />
<text x="518.2" y="281.03" font-size="7.9" font-weight="bold" text-anchor="end" fill="#000" textLength="12.6" lengthAdjust="spacingAndGlyphs" >100</text>
<line x1="519.3" y1="305.6" x2="524.5" y2="305.6" stroke="#000" stroke-width="0.75" />
<text x="518.2" y="308.43" font-size="7.9" font-weight="bold" text-anchor="end" fill="#000" >0</text>
<line x1="551.4" y1="305.6" x2="551.4" y2="310" stroke="#000" stroke-width="0.75" />
<text x="551.8" y="318.4" font-size="8.3" font-weight="normal" text-anchor="middle" fill="#000" textLength="16.8" lengthAdjust="spacingAndGlyphs"  class="r">GP3</text>
<line x1="592.0" y1="305.6" x2="592.0" y2="310" stroke="#000" stroke-width="0.75" />
<text x="592.4" y="318.4" font-size="8.3" font-weight="normal" text-anchor="middle" fill="#000" textLength="16.8" lengthAdjust="spacingAndGlyphs"  class="r">GP4</text>
<line x1="633.2" y1="305.6" x2="633.2" y2="310" stroke="#000" stroke-width="0.75" />
<text x="633.6" y="318.4" font-size="8.3" font-weight="normal" text-anchor="middle" fill="#000" textLength="16.8" lengthAdjust="spacingAndGlyphs"  class="r">GP5</text>
<rect x="537.6" y="303" width="27.899999999999977" height="3" fill="#000" rx="0.8"/>
<line x1="551.4" y1="297.9" x2="551.4" y2="303" stroke="#000" stroke-width="2.4" />
<line x1="544.3" y1="297.9" x2="558.7" y2="297.9" stroke="#000" stroke-width="2.1" />
<rect x="578.8" y="301.4" width="27.200000000000045" height="4.600000000000023" fill="#000" rx="0.8"/>
<line x1="592.0" y1="270.3" x2="592.0" y2="301.4" stroke="#000" stroke-width="3.2" />
<line x1="585.4" y1="270.3" x2="599.1" y2="270.3" stroke="#000" stroke-width="2.1" />
<rect x="619.6" y="268.7" width="27.399999999999977" height="4.400000000000034" fill="#000" rx="0.8"/>
<line x1="633.2" y1="214.6" x2="633.2" y2="268.7" stroke="#000" stroke-width="3.0" />
<line x1="626" y1="214.6" x2="640.2" y2="214.6" stroke="#000" stroke-width="2.3" />
<line x1="633.2" y1="273.1" x2="633.2" y2="274.1" stroke="#000" stroke-width="3.0" />
<line x1="626" y1="274.1" x2="640.2" y2="274.1" stroke="#000" stroke-width="2.3" />
<line x1="550" y1="263" x2="593" y2="263" stroke="#222" stroke-width="0.85" />
<polyline points="571.8,263 571.8,204.5 632.9,204.5 632.9,209.8" fill="none" stroke="#222" stroke-width="0.85"/>
<polygon points="592.45,193.55 593.12,195.08 594.79,194.90 593.80,196.25 594.79,197.60 593.12,197.42 592.45,198.95 591.77,197.42 590.11,197.60 591.10,196.25 590.11,194.90 591.77,195.08" fill="#000" stroke="#000" stroke-width="0.3" stroke-linejoin="round"/>
<polygon points="598.75,193.55 599.42,195.08 601.09,194.90 600.10,196.25 601.09,197.60 599.42,197.42 598.75,198.95 598.08,197.42 596.41,197.60 597.40,196.25 596.41,194.90 598.08,195.08" fill="#000" stroke="#000" stroke-width="0.3" stroke-linejoin="round"/>
<polygon points="605.05,193.55 605.72,195.08 607.39,194.90 606.40,196.25 607.39,197.60 605.72,197.42 605.05,198.95 604.38,197.42 602.71,197.60 603.70,196.25 602.71,194.90 604.38,195.08" fill="#000" stroke="#000" stroke-width="0.3" stroke-linejoin="round"/>
<polygon points="611.35,193.55 612.02,195.08 613.69,194.90 612.70,196.25 613.69,197.60 612.02,197.42 611.35,198.95 610.68,197.42 609.01,197.60 610.00,196.25 609.01,194.90 610.68,195.08" fill="#000" stroke="#000" stroke-width="0.3" stroke-linejoin="round"/>
</svg>
</body></html>
